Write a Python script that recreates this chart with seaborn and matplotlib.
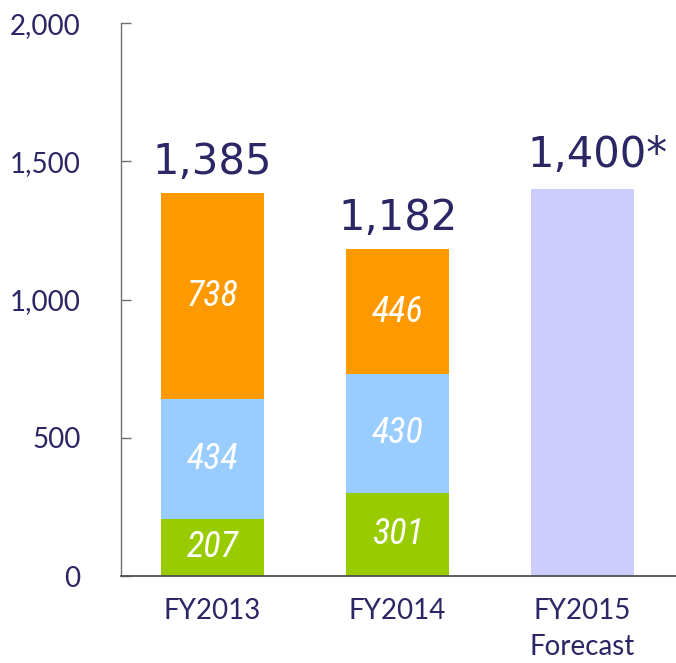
import matplotlib
matplotlib.use('Agg')
import matplotlib.pyplot as plt
from matplotlib import font_manager
from matplotlib.ticker import FuncFormatter
import seaborn as sns

# Data
years = ['FY2013', 'FY2014', 'FY2015\nForecast']
green_vals = [207, 301, 0]
blue_vals = [434, 430, 0]
orange_vals = [738, 446, 0]
totals = [1385, 1182, 1400]
total_labels = ['1,385', '1,182', '1,400*']

navy = '#2B2664'
top_colors = ['#FF9900', '#FF9900', '#CCCCFF']

names = {f.name for f in font_manager.fontManager.ttflist}
narrow = 'Roboto Condensed' if 'Roboto Condensed' in names else 'Liberation Sans'
seg_size = 26 if narrow == 'Roboto Condensed' else 22

sns.set_style('white')
plt.rcParams['font.family'] = ['Lato', 'DejaVu Sans']

fig = plt.figure(figsize=(6.76, 6.63), dpi=100)
ax = fig.add_axes([0.179, 0.1312, 0.821, 0.834])

# cumulative layers: draw the full bar first, then the lower segments on top
blue_top = [g + b for g, b in zip(green_vals, blue_vals)]
bw = 0.557
sns.barplot(x=years, y=totals, hue=years, palette=top_colors, order=years,
            width=bw, saturation=1, legend=False, linewidth=0, ax=ax)
sns.barplot(x=years, y=blue_top, color='#99CCFF', order=years,
            width=bw, saturation=1, linewidth=0, ax=ax)
sns.barplot(x=years, y=green_vals, color='#99CC00', order=years,
            width=bw, saturation=1, linewidth=0, ax=ax)

# segment labels
for i in range(len(years)):
    segs = [(green_vals[i], 0), (blue_vals[i], green_vals[i]),
            (totals[i] - blue_top[i], blue_top[i])]
    shown = [green_vals[i], blue_vals[i], orange_vals[i]]
    for (h, b), v in zip(segs, shown):
        if v > 0:
            ax.text(i, b + h / 2, str(v), ha='center', va='center', color='white',
                    fontsize=seg_size, style='italic', family=[narrow, 'DejaVu Sans'])

# totals above bars
for i, (t, lab) in enumerate(zip(totals, total_labels)):
    dx = 11 if lab.endswith('*') else 0
    dy = 16 if lab.endswith('*') else 14
    ax.annotate(lab, (i, t), xytext=(dx, dy), textcoords='offset points',
                ha='center', va='baseline', color=navy, fontsize=30,
                family=['DejaVu Sans'])

ax.set_xlim(-0.495, 2.505)
ax.set_ylim(0, 2000)
ax.set_yticks([0, 500, 1000, 1500, 2000])
ax.yaxis.set_major_formatter(FuncFormatter(lambda v, p: f'{int(v):,}'))

ax.tick_params(axis='y', direction='in', length=7.2, width=1, color='#6f6f6f',
               labelsize=20, labelcolor=navy, pad=29, left=True)
ax.tick_params(axis='x', length=0, labelsize=20, labelcolor=navy, pad=16)
for lbl in ax.get_xticklabels():
    lbl.set_linespacing(1.45)
    lbl.set_va('top')

ax.set_xlabel('')
ax.set_ylabel('')
for s in ['top', 'right']:
    ax.spines[s].set_visible(False)
ax.spines['left'].set_color('#6f6f6f')
ax.spines['left'].set_linewidth(1)
ax.spines['bottom'].set_color('#505050')
ax.spines['bottom'].set_linewidth(1.3)

fig.savefig('out.png', dpi=100)
